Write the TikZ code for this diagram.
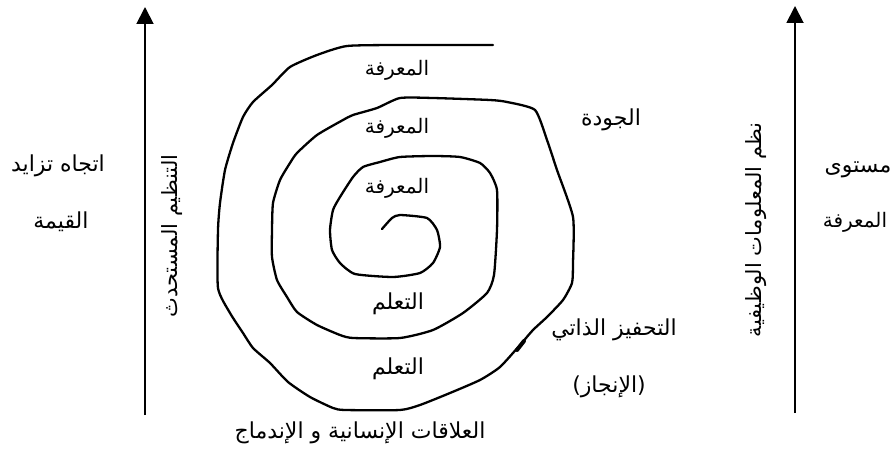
\documentclass[tikz,border=0pt]{standalone}
\usepackage{fontspec}
\usetikzlibrary{arrows.meta}
\TeXXeTstate=1
\newfontfamily\arabicfont[Script=Arabic]{DejaVu Sans}
\tikzset{
  lbl/.style={font=\arabicfont\fontsize{22}{25}\selectfont, inner sep=1pt},
  lblk/.style={font=\arabicfont\fontsize{20}{23}\selectfont, inner sep=1pt},
  lblv/.style={font=\arabicfont\fontsize{21}{24}\selectfont, inner sep=1pt, rotate=90},
  axisarrow/.style={line width=1.9pt, -{Triangle[width=17pt,length=17pt]}},
  spiralline/.style={line width=2.3pt, line join=round, line cap=round}
}
\begin{document}
\begin{tikzpicture}[x=1pt,y=-1pt]
\useasboundingbox (0,0) rectangle (894,465);
% axes
\coordinate (la0) at (145,415);
\coordinate (la1) at (145,7);
\coordinate (ra0) at (795,413);
\coordinate (ra1) at (795,6);
\draw[axisarrow] (la0) -- (la1);
\draw[axisarrow] (ra0) -- (ra1);
% spiral
\draw[spiralline] plot[smooth, tension=0.35] coordinates {
(493,45) (400,45) (347,46) (317,55) (290,67) (272,85) (253,102) (243,117)
(233,143) (225,170) (220,203) (218,230) (218,288) (230,313)
(243,333) (253,348) (270,363) (288,382) (310,397) (333,408) (345,410)
(400,410) (420,405) (450,393) (480,380) (500,367) (520,345) (533,330)
(547,317) (563,300) (572,283) (573,263) (573,217) (557,170) (547,140)
(535,110) (507,102) (490,100) (433,98) (400,98) (377,108) (353,115)
(343,120) (317,135) (297,153) (290,163) (280,180) (273,203) (272,230)
(272,257) (277,280) (287,297) (297,312) (317,325) (340,335) (353,338)
(400,338) (433,330) (463,313) (487,293) (494,275) (497,230) (497,190)
(490,173) (480,163) (460,157) (433,156) (400,157) (380,162) (363,167)
(353,177) (340,197) (333,210) (330,230) (332,250) (340,263) (355,274)
(393,277) (420,273) (433,263) (440,247) (437,230) (427,218) (400,215)
(392,218) (382,229)};
\draw[line width=4pt, line cap=round] (517,350) -- (524,341);
% spiral labels
\node[lblk] (k1) at (397,70) {\beginR المعرفة\endR};
\node[lblk] (k2) at (397,128) {\beginR المعرفة\endR};
\node[lblk] (k3) at (397,188) {\beginR المعرفة\endR};
\node[lbl] (t1) at (398,304) {\beginR التعلم\endR};
\node[lbl] (t2) at (398,369) {\beginR التعلم\endR};
\node[lbl] (q) at (611,120) {\beginR الجودة\endR};
\node[lbl] (m) at (614,330) {\beginR التحفيز الذاتي\endR};
\node[lbl] (a) at (609,387) {\beginR (الإنجاز)\endR};
\node[lbl] (b) at (360,433) {\beginR العلاقات الإنسانية و الإندماج\endR};
% side labels
\node[lbl] (l1) at (58,166) {\beginR اتجاه تزايد\endR};
\node[lbl] (l2) at (61,222) {\beginR القيمة\endR};
\node[lbl] (r1) at (858,170) {\beginR مستوى\endR};
\node[lblk] (r2) at (855,222) {\beginR المعرفة\endR};
\node[lblv] (lv) at (172,236) {\beginR التنظيم المستحدث\endR};
\node[lblv] (rv) at (756,230) {\beginR نظم المعلومات الوظيفية\endR};
\end{tikzpicture}
\end{document}
